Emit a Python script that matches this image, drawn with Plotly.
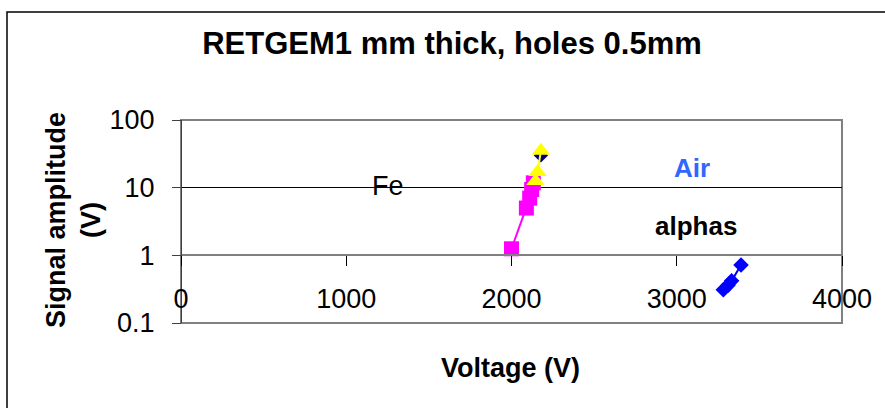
import plotly.graph_objects as go

# ---- data ----
fe_navy_x = [2178]
fe_navy_y = [30]

fe_sq_x = [2000, 2090, 2110, 2122, 2132]
fe_sq_y = [1.25, 5.0, 7.0, 9.4, 11.8]

fe_tri_x = [2145, 2158, 2178]
fe_tri_y = [12.5, 17.0, 35.0]

alpha_x = [3282, 3310, 3332, 3389]
alpha_y = [0.31, 0.36, 0.42, 0.72]

x_ticks = [0, 1000, 2000, 3000, 4000]
y_ticks = [0.1, 1, 10, 100]
y_ticktext = ["0.1", "1", "10", "100"]

FONT = "Liberation Sans, Arial, sans-serif"

fig = go.Figure()

fig.add_trace(go.Scatter(x=fe_navy_x, y=fe_navy_y, mode="lines+markers",
                         line=dict(color="#000080", width=2),
                         marker=dict(symbol="diamond", size=11, color="#000080"),
                         showlegend=False))
fig.add_trace(go.Scatter(x=fe_sq_x, y=fe_sq_y, mode="lines+markers",
                         line=dict(color="#FF00FF", width=2),
                         marker=dict(symbol="square", size=15, color="#FF00FF"),
                         showlegend=False))
fig.add_trace(go.Scatter(x=fe_tri_x, y=fe_tri_y, mode="lines+markers",
                         line=dict(color="#FFFF00", width=2),
                         marker=dict(symbol="triangle-up", size=16, color="#FFFF00"),
                         showlegend=False))
fig.add_trace(go.Scatter(x=alpha_x, y=alpha_y, mode="lines+markers",
                         line=dict(color="#0000FF", width=2),
                         marker=dict(symbol="diamond", size=12, color="#0000FF"),
                         showlegend=False))

fig.update_layout(
    width=885, height=408,
    margin=dict(l=181, r=43, t=120, b=85),
    paper_bgcolor="white", plot_bgcolor="white",
    font=dict(family=FONT, color="black"),
    title=dict(text="<b>RETGEM1 mm thick, holes 0.5mm</b>",
               x=452/885, xref="container",
               y=1 - 43/408, yref="container",
               xanchor="center", yanchor="middle",
               font=dict(size=31, family=FONT, color="black")),
    xaxis=dict(range=[0, 4000], tickvals=x_ticks,
               anchor="free", position=1/3,
               showline=True, linecolor="#808080", linewidth=2,
               ticks="outside", ticklen=10, tickcolor="black", tickwidth=1,
               ticklabelstandoff=9,
               showgrid=False, zeroline=False,
               tickfont=dict(size=27, family=FONT, color="black")),
    yaxis=dict(type="log", range=[-1, 2], tickvals=y_ticks, ticktext=y_ticktext,
               anchor="free", position=0,
               showline=True, linecolor="#404040", linewidth=1,
               ticks="outside", ticklen=9, tickcolor="#404040",
               ticklabelstandoff=12,
               showgrid=True, gridcolor="black", gridwidth=1,
               zeroline=False,
               tickfont=dict(size=27, family=FONT, color="black")),
    shapes=[
        dict(type="rect", xref="paper", yref="paper", x0=0, x1=1, y0=0, y1=1,
             line=dict(color="#808080", width=2), layer="between"),
        dict(type="rect", xref="paper", yref="paper",
             x0=(7 - 181)/661, x1=(886 - 181)/661,
             y0=(323 - 412)/203, y1=(323 - 12)/203,
             line=dict(color="black", width=1.5), layer="below"),
    ],
    annotations=[
        dict(text="<b>Signal amplitude<br>(V)</b>", textangle=-90,
             xref="paper", yref="paper", x=(73 - 181)/661, y=(323 - 220)/203,
             showarrow=False, xanchor="center", yanchor="middle",
             font=dict(size=27, family=FONT, color="black")),
        dict(text="<b>Voltage (V)</b>",
             xref="paper", yref="paper", x=(510 - 181)/661, y=(323 - 368)/203,
             showarrow=False, xanchor="center", yanchor="middle",
             font=dict(size=27, family=FONT, color="black")),
        dict(text="Fe", x=1250, y=1.02, xref="x", yref="y", showarrow=False,
             xanchor="center", yanchor="middle",
             font=dict(size=27, family=FONT, color="black")),
        dict(text="<b>Air</b>", x=3095, y=1.285, xref="x", yref="y", showarrow=False,
             xanchor="center", yanchor="middle",
             font=dict(size=26, family=FONT, color="#3366FF")),
        dict(text="<b>alphas</b>", x=3116, y=0.43, xref="x", yref="y", showarrow=False,
             xanchor="center", yanchor="middle",
             font=dict(size=26, family=FONT, color="black")),
    ],
)

fig.write_html("out.html",
               config={"displayModeBar": False},
               post_script="document.body.style.margin='0';document.body.style.padding='0';")
